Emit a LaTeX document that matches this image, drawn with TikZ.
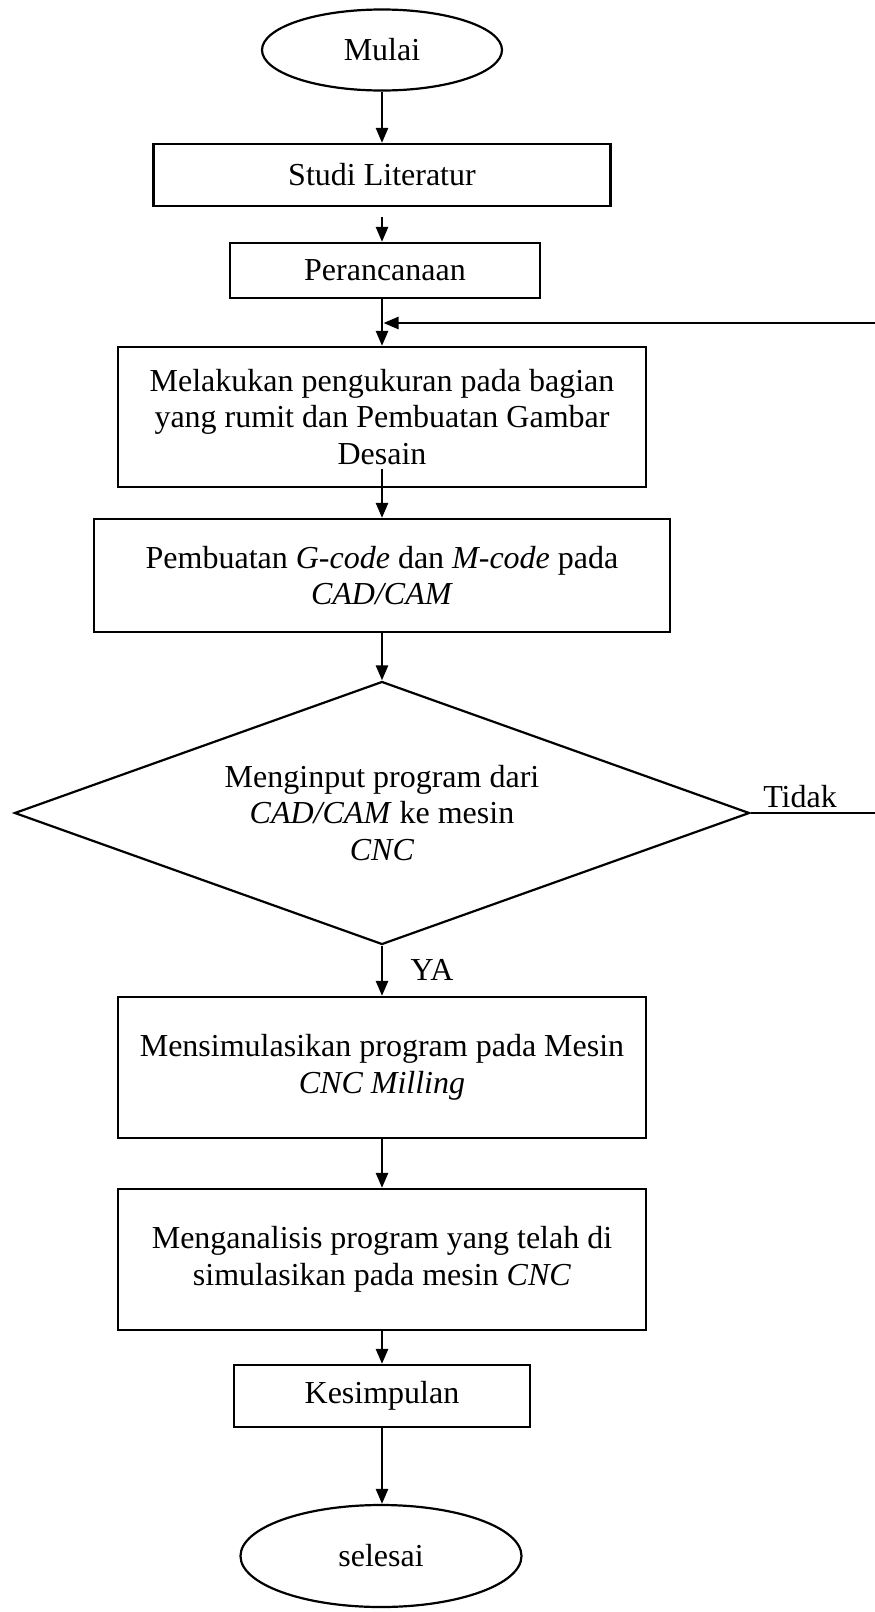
\documentclass[tikz,border=0pt]{standalone}
\usepackage{fontspec}
\setmainfont{Liberation Serif}
\usetikzlibrary{shapes.geometric,arrows.meta}
\begin{document}
\begin{tikzpicture}[x=1pt,y=-1pt,
  every node/.style={font=\fontsize{32}{36.8}\selectfont},
  box/.style={draw,line width=2.2pt,inner sep=0pt,align=center},
  term/.style={draw,ellipse,line width=2.2pt,inner sep=0pt},
  decision/.style={draw,diamond,aspect=2.8,line width=2.2pt,inner sep=0pt,align=center},
  conn/.style={line width=2.5pt},
  arr/.style={conn,-{Triangle[length=15pt,width=12pt]}},
]
\useasboundingbox (0,0) rectangle (875,1612);
\clip (0,0) rectangle (875,1612);

\node[term,minimum width=240pt,minimum height=81pt] (mulai) at (382,50) {Mulai};
\node[box,minimum width=457pt,minimum height=62pt] (studi) at (382,175) {Studi Literatur};
\node[box,minimum width=310pt,minimum height=55pt] (peranc) at (385,270.5) {Perancanaan};
\node[box,minimum width=528pt,minimum height=140pt] (ukur) at (382,417) {Melakukan pengukuran pada bagian\\yang rumit dan Pembuatan Gambar\\Desain};
\node[box,minimum width=576pt,minimum height=113pt] (gcode) at (382,575.5) {Pembuatan \textit{G-code} dan \textit{M-code} pada\\\textit{CAD/CAM}};
\node[decision,minimum width=735pt,minimum height=263pt] (input) at (382,813) {Menginput program dari\\\textit{CAD/CAM} ke mesin\\\textit{CNC}};
\node[box,minimum width=528pt,minimum height=141pt] (sim) at (382,1067.5) {Mensimulasikan program pada Mesin\\\textit{CNC Milling}};
\node[box,minimum width=528pt,minimum height=141pt] (anal) at (382,1259.5) {Menganalisis program yang telah di\\simulasikan pada mesin \textit{CNC}};
\node[box,minimum width=296pt,minimum height=62pt] (kes) at (382,1396) {Kesimpulan};
\node[term,minimum width=281pt,minimum height=102pt] (selesai) at (381,1556) {selesai};

\node (tidak) at (800,797) {Tidak};
\node (ya) at (432,970) {YA};

\coordinate (join) at (382,323);
\coordinate (rt) at (895,813);

\draw[arr] (mulai) -- (studi);
\draw[arr,shorten <=10pt] (studi.south) -- (studi.south |- peranc.north);
\draw[arr] (peranc.south -| ukur.north) -- (ukur.north);
\draw[arr] (input.east) -- (rt) |- ([xshift=1.5pt]join);
\draw[arr] ([yshift=19pt]ukur.south) -- (gcode.north);
\draw[arr] (gcode.south) -- (input.north);
\draw[arr] (input.south) -- (sim.north);
\draw[arr] (sim.south) -- (anal.north);
\draw[arr] (anal.south) -- (kes.north);
\draw[arr] (kes.south) -- (kes.south |- selesai.north);
\end{tikzpicture}
\end{document}
